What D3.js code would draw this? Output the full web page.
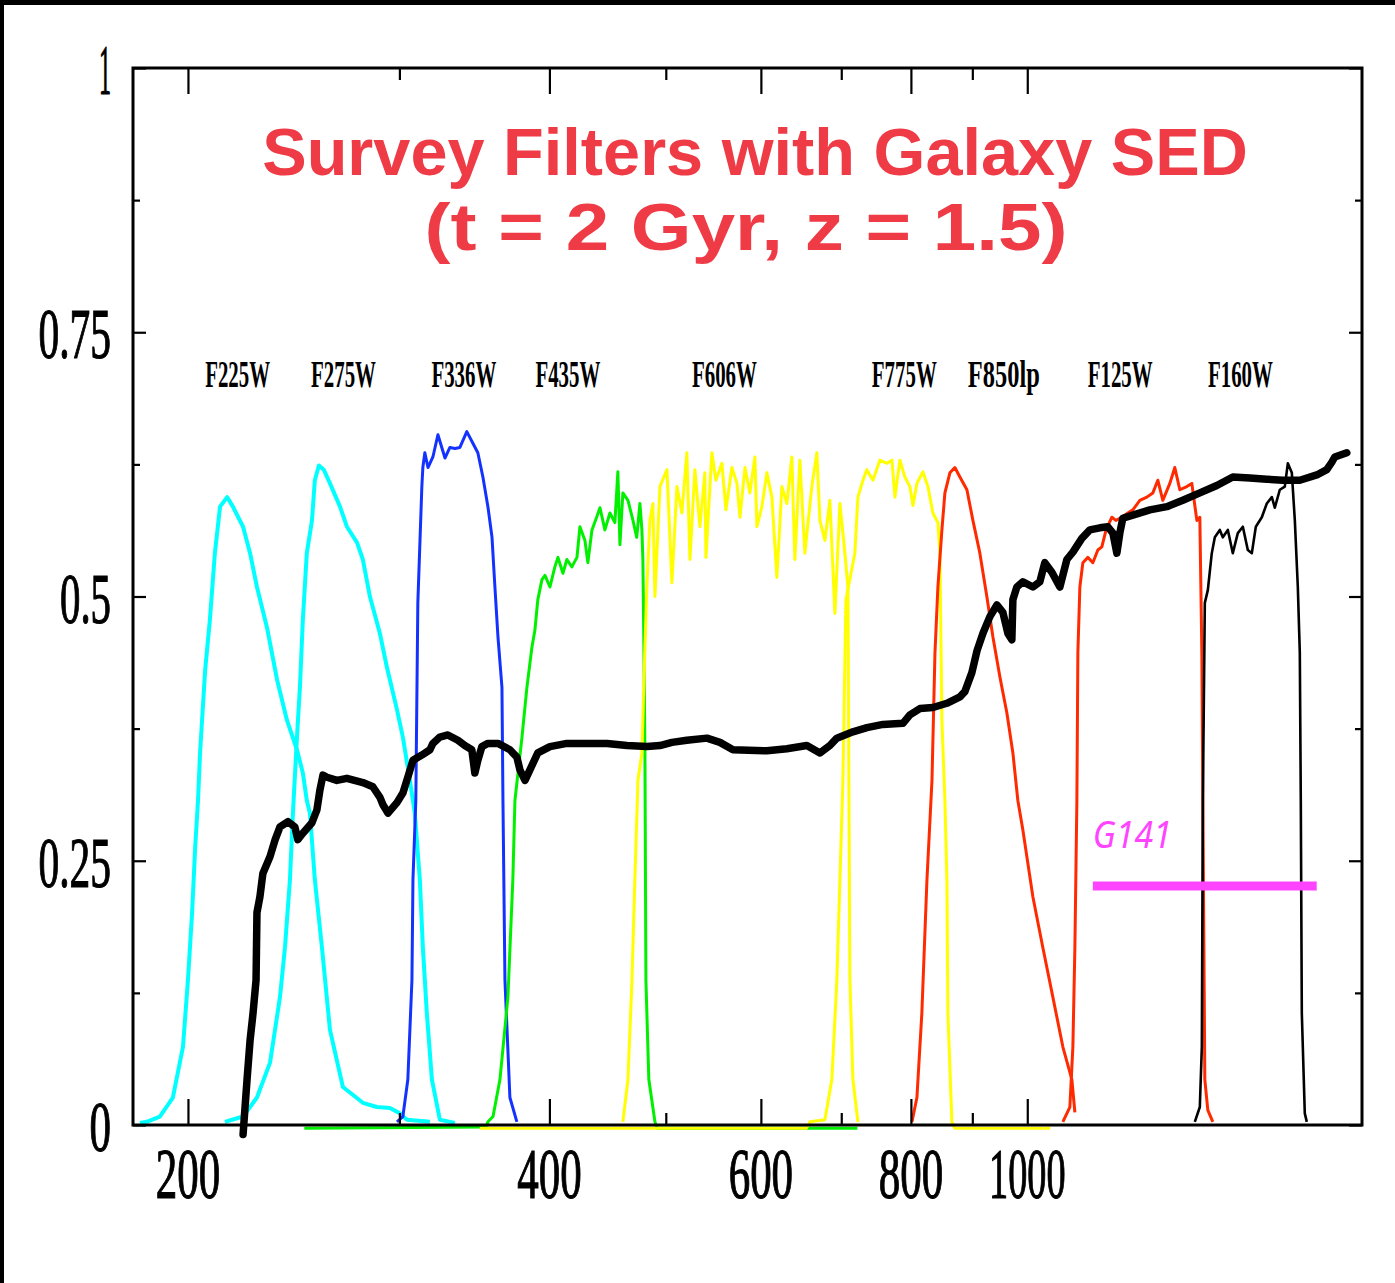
<!DOCTYPE html>
<html>
<head>
<meta charset="utf-8">
<script src="https://cdn.jsdelivr.net/npm/d3@7"></script>
<style>
  html, body { margin: 0; padding: 0; background: #fff; }
  svg { display: block; }
</style>
</head>
<body>
<svg id="chart" width="1395" height="1283"></svg>
<script>
// ---- axis ticks (wavelength in nm, throughput) ----
const waveMajor = [200, 400, 600, 800, 1000];
const waveMinor = [300, 500, 700, 900];
const waveLabels = ["200", "400", "600", "800", "1000"];
const thrMajor = [0, 0.25, 0.5, 0.75, 1];
const thrMinor = [0.125, 0.375, 0.625, 0.875];
const thrLabels = ["0", "0.25", "0.5", "0.75", "1"];

// ---- filter names, label anchors (nm) and colours ----
const filterNames = ["F225W", "F275W", "F336W", "F435W", "F606W", "F775W", "F850lp", "F125W", "F160W"];
const filterLabelWave = [220, 269.5, 339.5, 414.4, 559.5, 790, 956, 1195, 1505];
const filterColors = ["#00ffff", "#00ffff", "#1432ff", "#00f000", "#ffff00", "#ffff00", "#ff2a00", "#ff2a00", "#000000"];

// ---- filter throughput curves: [wavelength nm, throughput] ----
const f225w = [[182.4,0.002],[184.8,0.003],[189.5,0.008],[194.3,0.026],[198.1,0.074],[200.0,0.137],[201.6,0.201],[202.8,0.263],[203.9,0.307],[204.7,0.352],[206.7,0.430],[208.6,0.478],[210.6,0.541],[212.7,0.585],[215.6,0.594],[218.0,0.585],[222.3,0.566],[225.3,0.541],[228.3,0.509],[232.7,0.471],[237.3,0.421],[241.8,0.383],[246.5,0.355],[249.3,0.333],[251.2,0.307],[252.7,0.295],[255.1,0.232],[258.6,0.168],[262.6,0.090],[269.2,0.036],[279.7,0.021],[287.3,0.017],[294.6,0.016],[300.3,0.011],[304.4,0.005],[318.1,0.003]];

const f275w = [[214.7,0.003],[222.3,0.008],[228.3,0.026],[234.1,0.059],[238.6,0.121],[240.9,0.168],[243.2,0.232],[244.6,0.295],[246.5,0.367],[247.9,0.414],[249.3,0.478],[251.2,0.541],[253.7,0.572],[255.1,0.610],[257.1,0.624],[259.5,0.620],[262.6,0.607],[267.7,0.585],[271.3,0.566],[276.6,0.551],[279.7,0.535],[283.5,0.500],[289.0,0.465],[292.9,0.433],[298.6,0.393],[302.0,0.367],[306.1,0.326],[309.0,0.295],[312.0,0.232],[313.8,0.168],[316.2,0.106],[319.3,0.043],[324.2,0.005],[333.7,0.002]];

const f336w = [[298.6,0.003],[302.0,0.008],[304.9,0.043],[307.3,0.137],[307.9,0.232],[309.6,0.307],[310.8,0.494],[313.2,0.604],[313.8,0.622],[315.0,0.636],[316.9,0.622],[319.9,0.632],[323.0,0.653],[325.4,0.641],[327.4,0.631],[330.5,0.641],[333.7,0.640],[336.9,0.641],[341.4,0.656],[345.4,0.645],[348.7,0.636],[352.1,0.613],[355.5,0.585],[358.3,0.556],[360.3,0.509],[362.4,0.462],[365.2,0.414],[365.9,0.307],[367.3,0.137],[370.8,0.026],[375.8,0.003]];

const f435w = [[250.0,-0.003],[354.0,-0.002],[355.5,0.003],[359.0,0.008],[363.8,0.043],[369.4,0.121],[372.9,0.232],[374.4,0.307],[379.5,0.367],[383.1,0.414],[386.8,0.452],[389.0,0.468],[391.2,0.497],[394.3,0.516],[396.6,0.520],[400.4,0.509],[404.2,0.528],[406.6,0.537],[410.5,0.522],[413.6,0.535],[417.6,0.528],[421.7,0.537],[424.1,0.566],[428.2,0.553],[430.6,0.532],[434.0,0.563],[437.9,0.575],[440.7,0.584],[444.9,0.563],[449.2,0.579],[453.5,0.570],[456.1,0.618],[457.9,0.549],[460.5,0.598],[465.0,0.591],[469.5,0.572],[472.9,0.556],[475.8,0.588],[477.6,0.563],[478.5,0.535],[479.4,0.456],[480.4,0.352],[481.3,0.137],[484.0,0.043],[489.7,0.003],[492.0,-0.003],[722.0,-0.003]];

const f606w = [[460.5,0.003],[465.0,0.043],[468.6,0.137],[471.2,0.232],[474.0,0.326],[477.6,0.352],[480.4,0.452],[482.2,0.509],[485.0,0.572],[487.8,0.588],[489.7,0.500],[494.4,0.604],[501.1,0.620],[505.9,0.513],[510.8,0.604],[515.7,0.579],[520.6,0.636],[523.7,0.535],[528.7,0.620],[533.8,0.566],[538.9,0.617],[540.0,0.537],[546.2,0.636],[550.4,0.610],[556.8,0.626],[561.1,0.582],[567.6,0.622],[573.1,0.607],[576.4,0.575],[582.0,0.622],[587.5,0.598],[593.2,0.632],[595.4,0.566],[601.2,0.585],[607.0,0.617],[612.8,0.594],[618.7,0.518],[624.7,0.604],[630.7,0.588],[636.7,0.632],[640.4,0.535],[646.6,0.629],[652.8,0.541],[661.6,0.604],[668.0,0.636],[671.9,0.572],[678.4,0.553],[684.9,0.591],[691.5,0.484],[698.2,0.588],[704.9,0.541],[709.0,0.509],[710.3,0.326],[711.7,0.137],[715.8,0.043],[722.7,0.003]];

const f775w = [[350.0,-0.003],[655.0,-0.003],[659.1,0.003],[678.4,0.005],[687.5,0.043],[694.1,0.137],[698.2,0.232],[702.2,0.326],[706.3,0.497],[718.5,0.541],[722.7,0.594],[729.7,0.610],[735.1,0.620],[743.8,0.610],[753.8,0.629],[764.0,0.626],[771.4,0.629],[775.9,0.594],[783.3,0.629],[790.9,0.613],[798.5,0.604],[803.1,0.586],[809.3,0.607],[818.6,0.618],[826.5,0.604],[834.5,0.579],[842.5,0.570],[845.7,0.541],[849.0,0.383],[853.9,0.307],[857.2,0.232],[858.8,0.106],[865.4,0.003],[870.0,-0.003],[1045.0,-0.003]];

const f850lp = [[801.6,0.003],[809.3,0.026],[817.0,0.106],[825.0,0.232],[833.0,0.326],[837.8,0.447],[842.5,0.509],[849.0,0.563],[853.9,0.598],[862.1,0.617],[870.4,0.622],[878.8,0.613],[890.7,0.601],[901.0,0.572],[913.1,0.541],[925.4,0.500],[936.2,0.462],[948.8,0.424],[961.6,0.390],[972.8,0.352],[982.1,0.307],[991.6,0.279],[1010.8,0.216],[1030.3,0.168],[1050.3,0.121],[1070.6,0.074],[1089.3,0.043],[1095.6,0.012]];

const f125w = [[1070.6,0.003],[1085.1,0.017],[1091.4,0.074],[1095.6,0.168],[1099.8,0.307],[1101.9,0.447],[1106.1,0.509],[1112.5,0.532],[1123.2,0.537],[1134.0,0.532],[1144.9,0.544],[1153.7,0.547],[1163.1,0.563],[1176.1,0.575],[1185.2,0.572],[1198.8,0.575],[1212.7,0.579],[1224.4,0.582],[1240.9,0.591],[1257.7,0.594],[1272.3,0.598],[1284.5,0.610],[1296.8,0.591],[1314.4,0.607],[1327.0,0.622],[1339.8,0.601],[1357.9,0.604],[1371.0,0.607],[1384.3,0.572],[1392.2,0.575],[1397.6,0.447],[1400.3,0.307],[1405.6,0.043],[1413.7,0.014],[1427.3,0.003]];

const f160w = [[1378.9,0.003],[1392.2,0.017],[1397.6,0.074],[1400.3,0.307],[1405.6,0.494],[1413.7,0.506],[1424.5,0.541],[1432.8,0.556],[1446.6,0.563],[1454.9,0.556],[1469.0,0.563],[1483.1,0.541],[1497.4,0.560],[1511.9,0.566],[1526.4,0.544],[1538.2,0.541],[1550.0,0.566],[1567.9,0.575],[1583.0,0.588],[1598.3,0.594],[1607.5,0.584],[1623.0,0.601],[1638.6,0.604],[1648.1,0.626],[1660.8,0.617],[1670.4,0.572],[1680.0,0.509],[1686.4,0.447],[1689.6,0.307],[1692.9,0.106],[1702.6,0.011],[1709.2,0.003]];

// ---- galaxy SED (t = 2 Gyr, z = 1.5), scaled flux ----
const galaxySED = [[222.3,-0.009],[224.0,0.043],[225.3,0.080],[226.6,0.106],[227.9,0.137],[228.3,0.201],[229.6,0.216],[230.9,0.238],[234.1,0.254],[236.4,0.270],[238.6,0.282],[242.3,0.287],[245.5,0.282],[246.9,0.270],[249.3,0.276],[253.7,0.286],[256.1,0.298],[257.6,0.317],[259.1,0.331],[261.1,0.329],[266.1,0.326],[271.3,0.328],[279.7,0.324],[285.1,0.320],[289.0,0.310],[290.7,0.303],[293.5,0.295],[298.6,0.305],[302.0,0.314],[304.9,0.329],[307.9,0.345],[313.2,0.350],[318.1,0.355],[319.9,0.361],[324.2,0.367],[329.2,0.369],[335.6,0.364],[340.1,0.359],[344.7,0.355],[346.7,0.333],[348.7,0.345],[351.4,0.358],[355.5,0.361],[362.4,0.361],[370.8,0.355],[375.8,0.348],[378.0,0.336],[381.7,0.326],[385.3,0.336],[391.2,0.352],[400.4,0.358],[413.6,0.361],[426.5,0.361],[446.7,0.361],[464.1,0.359],[482.2,0.358],[494.4,0.359],[505.9,0.362],[520.6,0.364],[541.0,0.366],[554.7,0.362],[568.7,0.355],[607.0,0.354],[630.7,0.356],[655.3,0.359],[671.9,0.352],[684.9,0.359],[694.1,0.366],[715.8,0.372],[735.3,0.376],[758.2,0.379],[787.8,0.380],[798.5,0.388],[813.9,0.394],[834.5,0.395],[857.1,0.399],[878.8,0.405],[887.2,0.410],[899.2,0.428],[908.3,0.449],[918.4,0.465],[930.8,0.481],[943.4,0.492],[954.3,0.485],[963.5,0.465],[970.9,0.459],[972.8,0.497],[980.3,0.509],[991.6,0.514],[1010.8,0.509],[1024.4,0.514],[1034.2,0.532],[1048.3,0.523],[1064.5,0.509],[1078.9,0.535],[1091.4,0.542],[1110.3,0.555],[1127.5,0.563],[1149.3,0.565],[1167.0,0.566],[1178.4,0.560],[1187.4,0.541],[1194.2,0.560],[1201.1,0.574],[1224.4,0.577],[1265.0,0.582],[1306.8,0.585],[1347.5,0.591],[1392.2,0.598],[1438.3,0.605],[1483.1,0.613],[1532.3,0.612],[1583.0,0.611],[1632.4,0.610],[1686.4,0.610],[1742.3,0.615],[1775.9,0.620],[1793.1,0.627],[1803.3,0.632],[1845.4,0.636]];

// ---- G141 grism coverage ----
const g141Range = [1134, 1742];
const g141Level = 0.226;
const g141LabelLevel = 0.262;

const filterCurves = [f225w, f275w, f336w, f435w, f606w, f775w, f850lp, f125w, f160w];
const filterWidths = [4, 4, 3, 3, 3, 3, 3, 3, 2.6];

// ---- layout ----
const svg = d3.select("#chart");
const plot = { left: 133, right: 1362, top: 68, bottom: 1125 };

const x = d3.scaleLog().domain([180, 1900]).range([plot.left, plot.right]);
const y = d3.scaleLinear().domain([0, 1]).range([plot.bottom, plot.top]);

svg.append("rect").attr("width", 1395).attr("height", 1283).attr("fill", "#fff");

// slide frame along the top and left edges
svg.append("rect").attr("x", 0).attr("y", 0).attr("width", 1395).attr("height", 5).attr("fill", "#000");
svg.append("rect").attr("x", 0).attr("y", 0).attr("width", 4).attr("height", 1283).attr("fill", "#000");

const line = d3.line().x(d => x(d[0])).y(d => y(d[1]));

// filter transmission curves
svg.append("g").selectAll("path")
  .data(filterCurves)
  .join("path")
  .attr("d", line)
  .attr("fill", "none")
  .attr("stroke", (d, i) => filterColors[i])
  .attr("stroke-width", (d, i) => filterWidths[i])
  .attr("stroke-linejoin", "round");

// axes frame and ticks
function tickAxis(axis, values, size, tx, ty) {
  const g = svg.append("g")
    .attr("transform", `translate(${tx},${ty})`)
    .call(axis.tickValues(values).tickSizeInner(-size).tickSizeOuter(0).tickFormat(""));
  g.select(".domain").remove();
  g.selectAll("line").attr("stroke", "#000").attr("stroke-width", 2.2);
  return g;
}
tickAxis(d3.axisBottom(x), waveMajor, 26, 0, plot.bottom);
tickAxis(d3.axisBottom(x), waveMinor, 12, 0, plot.bottom);
tickAxis(d3.axisTop(x), waveMajor, 26, 0, plot.top);
tickAxis(d3.axisTop(x), waveMinor, 12, 0, plot.top);
tickAxis(d3.axisLeft(y), thrMajor, 13, plot.left, 0);
tickAxis(d3.axisLeft(y), thrMinor, 7, plot.left, 0);
tickAxis(d3.axisRight(y), thrMajor, 13, plot.right, 0);
tickAxis(d3.axisRight(y), thrMinor, 7, plot.right, 0);

svg.append("rect")
  .attr("x", plot.left).attr("y", plot.top)
  .attr("width", plot.right - plot.left).attr("height", plot.bottom - plot.top)
  .attr("fill", "none").attr("stroke", "#000").attr("stroke-width", 3);

// Squeeze each text horizontally to a target width, keeping its anchor at (px, py).
function condense(sel, px, py, widthFn) {
  sel.each(function (d, i) {
    const natural = this.getComputedTextLength();
    const s = natural > 0 ? widthFn(d, i) / natural : 1;
    d3.select(this)
      .attr("x", 0).attr("y", 0)
      .attr("transform", `translate(${px(d, i)},${py(d, i)}) scale(${s},1)`);
  });
}

// tick labels
const numFont = "'Liberation Serif','Times New Roman',serif";
const digitW = 21.5, dotW = 8, oneW = 12;
function labelWidth(s) {
  let w = 0;
  for (const c of s) w += c === "." ? dotW : (c === "1" ? oneW : digitW);
  return w;
}
const xLab = svg.append("g").selectAll("text")
  .data(waveMajor)
  .join("text")
  .attr("text-anchor", "middle")
  .attr("font-family", numFont)
  .attr("font-size", 71)
  .attr("stroke", "#000").attr("stroke-width", 1.2)
  .text((d, i) => waveLabels[i]);
condense(xLab, d => x(d), () => plot.bottom + 73, (d, i) => labelWidth(waveLabels[i]));

const yLab = svg.append("g").selectAll("text")
  .data(thrMajor)
  .join("text")
  .attr("text-anchor", "end")
  .attr("font-family", numFont)
  .attr("font-size", 71)
  .attr("stroke", "#000").attr("stroke-width", 1.2)
  .text((d, i) => thrLabels[i]);
condense(yLab, () => 111, d => y(d) + 26, (d, i) => labelWidth(thrLabels[i]));

// filter names
const fLab = svg.append("g").selectAll("text")
  .data(filterNames)
  .join("text")
  .attr("text-anchor", "middle")
  .attr("font-family", numFont)
  .attr("font-weight", "bold")
  .attr("font-size", 37)
  .text(d => d);
condense(fLab, (d, i) => x(filterLabelWave[i]), () => y(0.698), d => d.length === 6 ? 72 : 65);

// galaxy SED
svg.append("path")
  .datum(galaxySED)
  .attr("d", line)
  .attr("fill", "none")
  .attr("stroke", "#000")
  .attr("stroke-width", 7.5)
  .attr("stroke-linejoin", "round")
  .attr("stroke-linecap", "round");

// G141 grism range
svg.append("line")
  .attr("x1", x(g141Range[0])).attr("x2", x(g141Range[1]))
  .attr("y1", y(g141Level)).attr("y2", y(g141Level))
  .attr("stroke", "#ff44ff").attr("stroke-width", 9);
const gLab = svg.append("text")
  .attr("font-family", "'Comic Sans MS','Noto Sans',sans-serif")
  .attr("font-style", "italic")
  .attr("font-size", 39)
  .attr("fill", "#ff44ff")
  .text("G141");
condense(gLab, () => x(g141Range[0]), () => y(g141LabelLevel), () => 79);

// title
const titleFont = "'Comic Sans MS','Liberation Sans',Arial,sans-serif";
const titleLines = ["Survey Filters with Galaxy SED", "(t = 2 Gyr, z = 1.5)"];
const titleX = [755, 746], titleY = [175, 250], titleW = [986, 643];
const tLab = svg.append("g")
  .attr("font-family", titleFont)
  .attr("font-weight", "bold")
  .attr("font-size", 66)
  .attr("fill", "#ef3b46")
  .attr("text-anchor", "middle")
  .selectAll("text")
  .data(titleLines)
  .join("text")
  .text(d => d);
condense(tLab, (d, i) => titleX[i], (d, i) => titleY[i], (d, i) => titleW[i]);
</script>
</body>
</html>
